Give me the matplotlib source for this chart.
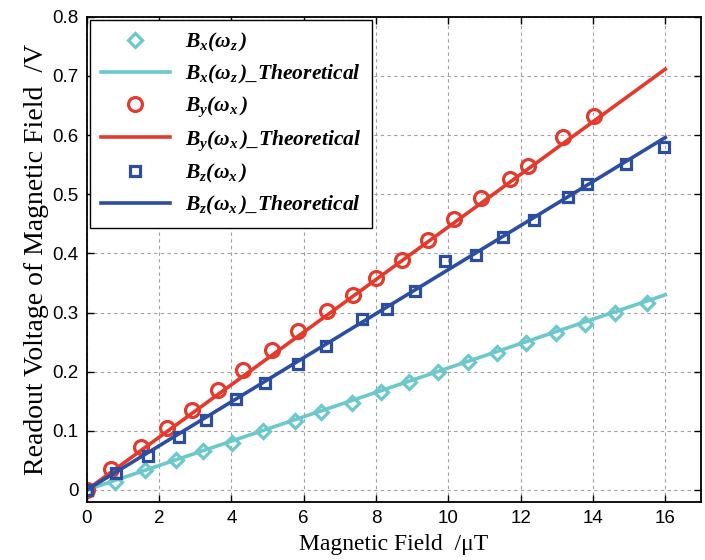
import matplotlib
matplotlib.use('Agg')
from matplotlib import pyplot as plt

bx_field = [0, 0.78, 1.61, 2.46, 3.22, 4.01, 4.88, 5.76, 6.47, 7.33,
            8.13, 8.92, 9.71, 10.53, 11.35, 12.15, 12.99, 13.79, 14.62, 15.5]
bx_volt = [0, 0.014, 0.033, 0.05, 0.066, 0.08, 0.099, 0.116, 0.131, 0.147,
           0.166, 0.182, 0.199, 0.216, 0.231, 0.248, 0.265, 0.281, 0.299, 0.316]

by_field = [0, 0.68, 1.49, 2.22, 2.92, 3.63, 4.33, 5.11, 5.85, 6.65,
            7.35, 7.99, 8.73, 9.45, 10.17, 10.9, 11.7, 12.19, 13.16, 14.04]
by_volt = [0, 0.035, 0.072, 0.104, 0.135, 0.169, 0.202, 0.237, 0.268, 0.303,
           0.33, 0.358, 0.389, 0.423, 0.458, 0.494, 0.525, 0.548, 0.597, 0.633]

bz_field = [0, 0.82, 1.70, 2.55, 3.29, 4.14, 4.93, 5.85, 6.62, 7.61,
            8.31, 9.08, 9.91, 10.76, 11.52, 12.37, 13.3, 13.83, 14.9, 15.97]
bz_volt = [0, 0.029, 0.058, 0.09, 0.118, 0.153, 0.18, 0.213, 0.243, 0.289,
           0.306, 0.337, 0.387, 0.397, 0.427, 0.457, 0.496, 0.517, 0.551, 0.58]

# theoretical straight lines (end points)
theory_field = [0, 16]
bx_theory = [0, 0.33]
by_theory = [0, 0.7115]
bz_theory = [0, 0.596]

x_ticks = [0, 2, 4, 6, 8, 10, 12, 14, 16]
y_ticks = [0, 0.1, 0.2, 0.3, 0.4, 0.5, 0.6, 0.7, 0.8]
y_tick_labels = ['0', '0.1', '0.2', '0.3', '0.4', '0.5', '0.6', '0.7', '0.8']

cyan = '#6cc8ca'
red = '#e5392b'
blue = '#2b4ea2'

plt.rcParams['mathtext.fontset'] = 'custom'
plt.rcParams['mathtext.it'] = 'Liberation Serif:italic:bold'
plt.rcParams['mathtext.rm'] = 'Liberation Serif:italic:bold'
plt.rcParams['mathtext.bf'] = 'Liberation Serif:italic:bold'

fig = plt.figure(figsize=(7.05, 5.6), dpi=100)
ax = fig.add_axes([0.123, 0.104, 0.872, 0.866])

ax.plot(bx_field, bx_volt, 'D', ms=7.5, mfc='none', mec=cyan, mew=2.3,
        label=r'$B_x(\omega_z\,)$')
ax.plot(theory_field, bx_theory, '-', color=cyan, lw=2.6,
        label=r'$B_x(\omega_z\,)$_Theoretical')
ax.plot(by_field, by_volt, 'o', ms=10, mfc='none', mec=red, mew=2.3,
        label=r'$B_y(\omega_x\,)$')
ax.plot(theory_field, by_theory, '-', color=red, lw=2.6,
        label=r'$B_y(\omega_x\,)$_Theoretical')
ax.plot(bz_field, bz_volt, 's', ms=7.5, mfc='none', mec=blue, mew=2.3,
        label=r'$B_z(\omega_x\,)$')
ax.plot(theory_field, bz_theory, '-', color=blue, lw=2.6,
        label=r'$B_z(\omega_x\,)$_Theoretical')

ax.set_xlim(0, 17)
ax.set_ylim(-0.02, 0.8)
ax.set_xticks(x_ticks)
ax.set_yticks(y_ticks)
ax.set_yticklabels(y_tick_labels)
ax.tick_params(direction='in', top=True, right=True, length=5, width=1,
               labelsize=13.5, pad=6)
for lbl in ax.get_xticklabels() + ax.get_yticklabels():
    lbl.set_family('Liberation Sans')
for sp in ax.spines.values():
    sp.set_linewidth(1.3)

ax.grid(True, linestyle=(0, (3, 3)), color='#a0a0a0', linewidth=0.8)
ax.set_axisbelow(True)

ax.set_xlabel('Magnetic Field  /\u03bcT', fontsize=17, family='Liberation Serif',
              labelpad=5)
ax.set_ylabel('Readout Voltage of Magnetic Field  /V', fontsize=20,
              family='Liberation Serif', labelpad=2)

leg = ax.legend(loc='upper left', prop={'family': 'Liberation Serif',
                                        'weight': 'bold', 'style': 'italic',
                                        'size': 15.5},
                handlelength=3.2, handletextpad=0.7, borderaxespad=0.15,
                labelspacing=0.42, fancybox=False, framealpha=1,
                edgecolor='black', borderpad=0.5)
leg.get_frame().set_linewidth(1.0)

fig.savefig('out.png', dpi=100)
